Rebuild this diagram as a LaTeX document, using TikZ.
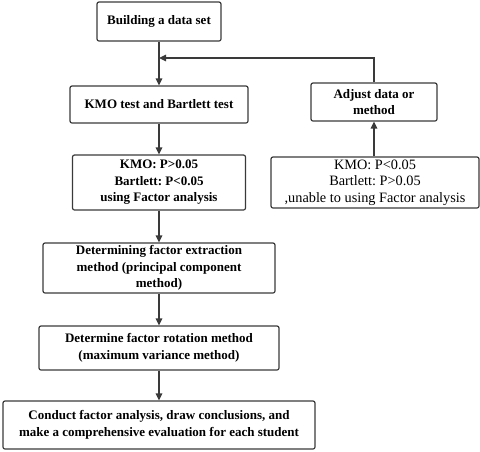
\documentclass[tikz,border=0pt]{standalone}
\usepackage{fontspec}
\setmainfont{Liberation Serif}
\usetikzlibrary{arrows.meta}
\definecolor{ln}{HTML}{3A3A3A}
\frenchspacing
\begin{document}
\begin{tikzpicture}[x=1pt,y=-1pt,
  box/.style={draw=ln,line width=1.2pt,rounded corners=2pt,align=center,inner sep=0pt,font=\bfseries\fontsize{13}{16.5}\selectfont},
  rbox/.style={box,font=\fontsize{14.3}{16.5}\selectfont},
  arr/.style={draw=ln,line width=1.3pt,-{Triangle[length=7pt,width=6.5pt]}}]
\useasboundingbox (0,0) rectangle (480,451);
\node[box,minimum width=124pt,minimum height=39pt] (b1) at (159,21.5) {Building a data set};
\node[box,minimum width=178pt,minimum height=37pt] (b2) at (159,104.5) {KMO test and Bartlett test};
\node[box,minimum width=173pt,minimum height=55pt] (b3) at (159,182.5) {KMO: P>0.05\\Bartlett: P<0.05\\using Factor analysis};
\node[box,minimum width=232pt,minimum height=50pt] (b4) at (159,268) {Determining factor extraction\\method (principal component\\method)};
\node[box,minimum width=240pt,minimum height=44pt] (b5) at (159,348) {Determine factor rotation method\\(maximum variance method)};
\node[box,minimum width=312pt,minimum height=48pt] (b6) at (159,425) {Conduct factor analysis, draw conclusions, and\\make a comprehensive evaluation for each student};
\node[box,minimum width=126pt,minimum height=38pt] (a1) at (374,102) {Adjust data or\\method};
\node[rbox,minimum width=208pt,minimum height=51pt] (a2) at (375,182.5) {KMO: P<0.05\\Bartlett: P>0.05\\,unable to using Factor analysis};
\coordinate (j) at (b1.south |- 0,58);
\draw[arr] (b1) -- (b2);
\draw[arr] (b2) -- (b3);
\draw[arr] (b3) -- (b4);
\draw[arr] (b4) -- (b5);
\draw[arr] (b5) -- (b6);
\draw[arr] (a2.north -| a1.south) -- (a1.south);
\draw[arr] (a1.north) |- (j);
\end{tikzpicture}
\end{document}
